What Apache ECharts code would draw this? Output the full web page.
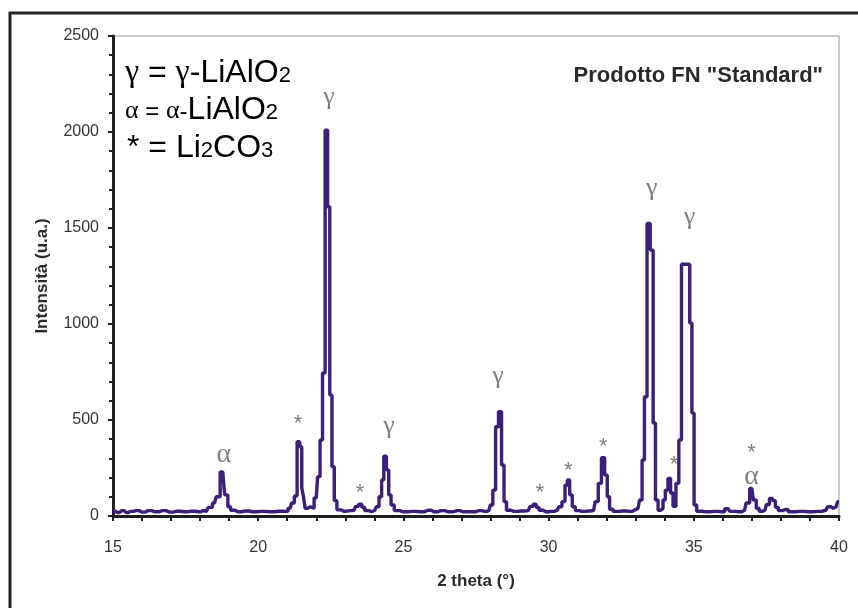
<!DOCTYPE html>
<html>
<head>
<meta charset="utf-8">
<script src="https://cdn.jsdelivr.net/npm/echarts@6/dist/echarts.min.js"></script>
<style>
  html, body { margin: 0; padding: 0; background: #ffffff; }
  #chart { width: 858px; height: 608px; }
</style>
</head>
<body>
<div id="chart"></div>
<script>
// XRD pattern of the FN "Standard" product: 2θ (degrees) and intensity (a.u.)
const twoTheta = [
  15.00, 15.15, 15.30, 15.45, 15.60, 15.80, 16.00, 16.20, 16.45, 16.70, 16.95, 17.20, 17.45, 17.70, 17.95,
  18.10, 18.22, 18.35, 18.50, 18.60, 18.78, 18.91, 19.00, 19.10, 19.30, 19.55, 19.80, 20.10, 20.40, 20.70,
  20.95, 21.10, 21.20, 21.29, 21.39, 21.47, 21.53, 21.58, 21.65, 21.75, 21.85, 22.00, 22.09, 22.17, 22.26,
  22.35, 22.43, 22.50, 22.58, 22.66, 22.76, 22.95, 23.15, 23.30, 23.40, 23.52, 23.62, 23.72, 23.90, 24.02,
  24.10, 24.22, 24.28, 24.37, 24.46, 24.53, 24.62, 24.75, 25.00, 25.30, 25.55, 25.85, 26.05, 26.30, 26.55,
  26.85, 27.05, 27.35, 27.60, 27.80, 27.95, 28.03, 28.13, 28.22, 28.33, 28.43, 28.50, 28.60, 28.80, 29.05,
  29.30, 29.42, 29.52, 29.62, 29.72, 29.90, 30.10, 30.30, 30.40, 30.52, 30.61, 30.68, 30.77, 30.86, 30.98,
  31.15, 31.35, 31.55, 31.66, 31.76, 31.88, 31.98, 32.06, 32.14, 32.30, 32.55, 32.80, 32.95, 33.08, 33.18,
  33.26, 33.34, 33.44, 33.56, 33.64, 33.72, 33.82, 33.90, 33.98, 34.06, 34.16, 34.24, 34.33, 34.44, 34.53,
  34.62, 34.72, 34.82, 34.90, 34.97, 35.05, 35.15, 35.40, 35.70, 35.95, 36.18, 36.30, 36.55, 36.75, 36.85,
  37.00, 37.10, 37.20, 37.30, 37.45, 37.55, 37.66, 37.76, 37.86, 37.96, 38.15, 38.35, 38.65, 38.95, 39.25,
  39.55, 39.65, 39.80, 39.90, 40.00
];
const intensity = [
  25, 18, 28, 18, 24, 28, 20, 28, 22, 28, 20, 25, 22, 25, 22,
  28, 25, 45, 68, 100, 230, 110, 48, 30, 22, 26, 22, 24, 22, 25,
  24, 40, 68, 104, 387, 361, 146, 104, 40, 48, 40, 94, 205, 396, 745,
  2010, 1611, 630, 257, 80, 32, 25, 28, 30, 50, 62, 45, 28, 22, 30,
  48, 100, 188, 312, 240, 110, 57, 28, 22, 24, 22, 30, 22, 28, 22,
  28, 22, 22, 28, 24, 30, 57, 135, 465, 543, 266, 75, 30, 24, 26,
  28, 50, 62, 45, 30, 22, 24, 30, 48, 75, 160, 188, 110, 48, 28,
  24, 26, 30, 75, 170, 304, 213, 100, 35, 24, 26, 24, 30, 40, 83,
  292, 621, 1524, 1385, 484, 83, 30, 40, 83, 135, 196, 120, 50, 170, 396,
  1311, 1311, 1311, 1005, 536, 57, 25, 22, 24, 22, 38, 24, 22, 30, 68,
  144, 83, 40, 25, 30, 60, 92, 80, 45, 28, 34, 22, 24, 22, 24,
  30, 48, 40, 48, 75
];

// Phase markers written above the reflections
const phaseX = [18.82, 21.37, 22.44, 23.51, 24.50, 28.26, 29.70, 30.68, 31.88, 33.55, 34.32, 34.85, 36.99, 36.99];
const phaseY = [320, 480, 2180, 120, 470, 730, 120, 235, 360, 1705, 265, 1555, 330, 205];
const phaseSymbol = ['α', '*', 'γ', '*', 'γ', 'γ', '*', '*', '*', 'γ', '*', 'γ', '*', 'α'];

const xRange = [15, 40];
const yRange = [0, 2500];

const pattern = twoTheta.map((t, i) => [t, intensity[i]]);

const symbolFont = { 'γ': 26, 'α': 28, '*': 22 };
const markers = phaseX.map((x, i) => ({
  name: phaseSymbol[i],
  value: [x, phaseY[i]],
  label: {
    fontSize: symbolFont[phaseSymbol[i]],
    fontFamily: phaseSymbol[i] === '*' ? 'Liberation Sans' : 'Liberation Serif'
  }
}));

const chart = echarts.init(document.getElementById('chart'), null, { renderer: 'canvas' });

const legendColor = '#3a3a3a';
const richLegend = {
  g: { fontFamily: 'Liberation Serif', fontSize: 32, color: legendColor },
  t: { fontFamily: 'Liberation Sans', fontSize: 32, color: legendColor },
  s: { fontFamily: 'Liberation Sans', fontSize: 22, color: legendColor, verticalAlign: 'bottom', padding: [0, 0, 2, 0] },
  ga: { fontFamily: 'Liberation Serif', fontSize: 26, color: legendColor, verticalAlign: 'bottom', padding: [0, 0, 2, 0] },
  gs: { fontFamily: 'Liberation Sans', fontSize: 24, color: legendColor, verticalAlign: 'bottom', padding: [0, 0, 2, 0] }
};

chart.setOption({
  animation: false,
  backgroundColor: '#ffffff',
  grid: {
    left: 113, top: 36, width: 726, height: 480,
    show: true, borderColor: '#8e9696', borderWidth: 1, backgroundColor: 'transparent'
  },
  xAxis: {
    type: 'value',
    min: xRange[0], max: xRange[1], interval: 5,
    name: '2 theta (°)',
    nameLocation: 'middle',
    nameGap: 57,
    nameTextStyle: { fontFamily: 'Liberation Sans', fontWeight: 'bold', fontSize: 17, color: '#2a2a2a' },
    axisLine: { show: true, onZero: false, lineStyle: { color: '#1e1e1e', width: 3 } },
    axisTick: { show: true, inside: false, length: 5, lineStyle: { color: '#1e1e1e', width: 2 } },
    minorTick: { show: true, splitNumber: 5, length: 5, lineStyle: { color: '#1e1e1e', width: 2 } },
    axisLabel: { margin: 24, fontFamily: 'Liberation Sans', fontSize: 16, color: '#333333' },
    splitLine: { show: false }
  },
  yAxis: {
    type: 'value',
    min: yRange[0], max: yRange[1], interval: 500,
    name: 'Intensità (u.a.)',
    nameLocation: 'middle',
    nameGap: 62,
    nameRotate: 90,
    nameTextStyle: { fontFamily: 'Liberation Sans', fontWeight: 'bold', fontSize: 17, color: '#2a2a2a' },
    axisLine: { show: true, onZero: false, lineStyle: { color: '#1e1e1e', width: 3 } },
    axisTick: { show: true, inside: false, length: 5, lineStyle: { color: '#1e1e1e', width: 2 } },
    minorTick: { show: true, splitNumber: 5, length: 4, lineStyle: { color: '#1e1e1e', width: 2 } },
    axisLabel: {
      margin: 14, fontFamily: 'Liberation Sans', fontSize: 16, color: '#333333',
      formatter: v => String(v)
    },
    splitLine: { show: false }
  },
  series: [
    {
      name: 'XRD',
      type: 'line',
      data: pattern,
      step: 'middle',
      showSymbol: false,
      symbol: 'none',
      lineStyle: { color: '#3b1f7a', width: 3.4 },
      z: 3
    },
    {
      name: 'phases',
      type: 'scatter',
      data: markers,
      symbolSize: 0,
      silent: true,
      label: {
        show: true,
        position: 'inside',
        formatter: p => p.name,
        color: '#5c5c5c'
      },
      z: 4
    }
  ],
  graphic: [
    // outer frame (left and top edges)
    { type: 'line', shape: { x1: 10, y1: 12, x2: 10, y2: 608 }, style: { stroke: '#222222', lineWidth: 3 } },
    { type: 'line', shape: { x1: 9, y1: 13, x2: 858, y2: 13 }, style: { stroke: '#222222', lineWidth: 3 } },
    {
      type: 'text', left: 125, top: 57,
      style: { text: '{g|γ}{t| = }{g|γ}{t|-LiAlO}{s|2}', rich: richLegend }
    },
    {
      type: 'text', left: 125, top: 94,
      style: { text: '{ga|α}{gs| = }{ga|α}{gs|-}{t|LiAlO}{s|2}', rich: richLegend }
    },
    {
      type: 'text', left: 127, top: 132,
      style: { text: '{t|* = Li}{s|2}{t|CO}{s|3}', rich: richLegend }
    },
    {
      type: 'text', right: 35, top: 65,
      style: {
        text: 'Prodotto FN "Standard"',
        font: 'bold 22px "Liberation Sans"',
        fill: '#2a2a2a'
      }
    }
  ]
});
</script>
</body>
</html>
